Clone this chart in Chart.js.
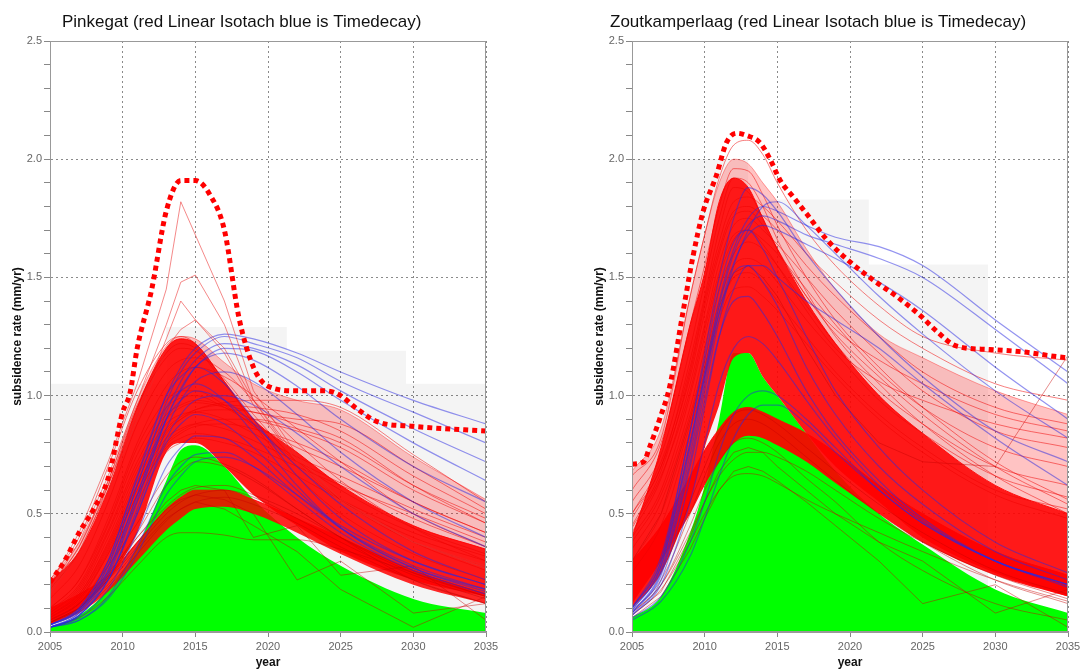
<!DOCTYPE html>
<html>
<head>
<meta charset="utf-8">
<script src="https://cdn.jsdelivr.net/npm/chart.js@4.4.0/dist/chart.umd.min.js"></script>
<style>
  html, body { margin: 0; padding: 0; background: #fff; }
  .panel { position: absolute; top: 0; width: 540px; height: 671px; }
</style>
</head>
<body>
<div class="panel" style="left:0"><canvas id="pinkegat" width="540" height="671"></canvas></div>
<div class="panel" style="left:540px"><canvas id="zoutkamperlaag" width="540" height="671"></canvas></div>
<script>
// ---- Pinkegat ----
const pinkYears      = [2005,2007,2009,2011,2013,2014,2015,2017,2019,2022,2025,2030,2035];
const pinkGreen      = [0.02,0.07,0.18,0.36,0.64,0.77,0.79,0.7,0.56,0.4,0.28,0.14,0.08];
const pinkHazeTop    = [0.22,0.38,0.64,0.98,1.21,1.25,1.24,1.14,1.05,0.98,0.94,0.74,0.56];
const pinkCoreTop    = [0.21,0.34,0.6,0.95,1.2,1.24,1.22,1.06,0.9,0.76,0.62,0.45,0.35];
const pinkCoreBottom = [0.03,0.1,0.22,0.42,0.76,0.8,0.8,0.7,0.58,0.45,0.34,0.22,0.15];
const pinkLowTop     = [0.1,0.16,0.24,0.38,0.52,0.57,0.6,0.6,0.56,0.48,0.4,0.26,0.16];
const pinkLowBottom  = [0.03,0.08,0.17,0.3,0.43,0.48,0.52,0.53,0.5,0.42,0.33,0.2,0.12];
const pinkRed = [
    [0.22,0.4,0.7,1.02,1.22,1.25,1.22,1.06,0.88,0.66,0.5,0.33,0.22],
    [0.18,0.34,0.62,0.95,1.16,1.2,1.19,1.07,0.92,0.72,0.56,0.38,0.26],
    [0.14,0.28,0.55,0.88,1.1,1.15,1.16,1.1,0.98,0.8,0.64,0.44,0.3],
    [0.1,0.22,0.48,0.8,1.04,1.1,1.12,1.08,1.0,0.86,0.72,0.5,0.36],
    [0.06,0.15,0.35,0.62,0.84,0.9,0.94,0.97,0.98,0.98,0.95,0.75,0.55],
    [0.07,0.16,0.38,0.66,0.86,0.91,0.94,0.96,0.95,0.92,0.85,0.66,0.5],
    [0.08,0.18,0.42,0.7,0.9,0.95,0.97,0.95,0.9,0.85,0.78,0.6,0.46],
    [0.09,0.2,0.45,0.75,0.95,0.99,1.0,0.95,0.88,0.78,0.7,0.55,0.42],
    [0.07,0.17,0.4,0.68,0.88,0.92,0.93,0.9,0.84,0.74,0.66,0.52,0.4],
    [0.06,0.15,0.36,0.62,0.82,0.86,0.88,0.86,0.81,0.72,0.63,0.48,0.36],
    [0.1,0.22,0.46,0.78,0.98,1.02,1.02,0.96,0.87,0.72,0.6,0.44,0.33],
    [0.05,0.13,0.33,0.58,0.78,0.82,0.84,0.82,0.78,0.7,0.62,0.5,0.38],
    [0.08,0.19,0.43,0.72,0.92,0.96,0.98,0.96,0.93,0.9,0.88,0.7,0.52],
    [0.06,0.14,0.34,0.6,0.8,0.85,0.88,0.9,0.9,0.86,0.8,0.62,0.48],
    [0.05,0.12,0.3,0.55,0.76,0.8,0.82,0.8,0.76,0.66,0.56,0.42,0.32],
    [0.2,0.36,0.64,0.96,1.18,1.22,1.2,1.05,0.9,0.7,0.56,0.4,0.3],
    [0.07,0.16,0.37,0.64,0.85,0.9,0.93,0.94,0.93,0.88,0.82,0.62,0.46],
    [0.06,0.14,0.33,0.58,0.79,0.84,0.87,0.88,0.86,0.8,0.72,0.55,0.42]
];
const pinkOlive = [
    [0.04,0.1,0.22,0.36,0.5,0.55,0.58,0.6,0.57,0.48,0.38,0.24,0.14],
    [0.05,0.12,0.25,0.4,0.53,0.58,0.61,0.62,0.58,0.5,0.4,0.26,0.16],
    [0.03,0.08,0.19,0.33,0.47,0.52,0.55,0.57,0.54,0.46,0.36,0.22,0.12],
    [0.02,0.06,0.15,0.28,0.4,0.42,0.42,0.41,0.39,0.39,0.35,0.25,0.15],
    [0.04,0.1,0.24,0.42,0.62,0.68,0.72,0.7,0.64,0.52,0.4,0.25,0.15],
    [0.05,0.12,0.28,0.46,0.66,0.72,0.74,0.71,0.65,0.52,0.4,0.22,0.12]
];
const pinkJagged = [
    [0.04,0.1,0.22,0.38,0.52,0.56,0.58,0.56,0.5,0.22,0.3,0.08,0.12],
    [0.03,0.09,0.2,0.35,0.48,0.52,0.55,0.52,0.45,0.34,0.18,0.02,0.15],
    [0.04,0.1,0.23,0.4,0.55,0.6,0.62,0.6,0.4,0.45,0.24,0.28,0.05]
];
const pinkSpike = [
    [0.2,0.42,0.72,1.05,1.45,1.82,1.68,1.4,1.02,0.75,0.56,0.38,0.28],
    [0.18,0.38,0.66,0.98,1.3,1.48,1.51,1.3,0.98,0.72,0.55,0.38,0.27],
    [0.17,0.36,0.62,0.93,1.24,1.4,1.32,1.18,0.96,0.72,0.55,0.38,0.27],
    [0.16,0.34,0.6,0.9,1.2,1.28,1.32,1.2,0.98,0.74,0.56,0.38,0.27]
];
const pinkBlue = [
    [0.03,0.1,0.3,0.65,1.0,1.12,1.2,1.26,1.24,1.18,1.1,0.98,0.88],
    [0.03,0.09,0.28,0.62,0.97,1.1,1.18,1.25,1.22,1.16,1.06,0.93,0.8],
    [0.02,0.08,0.26,0.58,0.93,1.06,1.15,1.22,1.2,1.13,1.02,0.86,0.72],
    [0.02,0.08,0.25,0.56,0.9,1.03,1.12,1.2,1.19,1.1,0.98,0.8,0.64],
    [0.02,0.07,0.24,0.55,0.9,1.02,1.12,1.18,1.15,1.04,0.9,0.7,0.55],
    [0.02,0.07,0.22,0.52,0.86,0.98,1.06,1.1,1.06,0.92,0.76,0.55,0.4],
    [0.03,0.1,0.3,0.66,1.0,1.08,1.12,1.05,0.9,0.66,0.48,0.3,0.2],
    [0.03,0.09,0.28,0.62,0.95,1.02,1.05,0.98,0.84,0.62,0.44,0.27,0.18],
    [0.02,0.07,0.22,0.5,0.8,0.88,0.92,0.88,0.78,0.6,0.44,0.27,0.17],
    [0.02,0.06,0.18,0.42,0.7,0.78,0.83,0.82,0.74,0.58,0.44,0.28,0.18],
    [0.02,0.05,0.15,0.36,0.62,0.7,0.75,0.76,0.7,0.56,0.42,0.26,0.16],
    [0.02,0.05,0.14,0.33,0.58,0.66,0.72,0.74,0.7,0.58,0.45,0.3,0.2],
    [0.02,0.07,0.22,0.5,0.82,0.92,0.98,1.0,0.96,0.84,0.7,0.5,0.36],
    [0.03,0.09,0.26,0.58,0.9,0.98,1.02,0.98,0.88,0.7,0.54,0.34,0.22]
];
const pinkEnvYears = [2005,2006,2007,2008,2009,2010,2010.5,2011,2012,2013,2014,2015,2016,2017,2018,2019,2020,2022,2024,2025,2026,2027.5,2030,2035];
const pinkEnv      = [0.21,0.3,0.42,0.52,0.65,0.93,1.01,1.2,1.45,1.78,1.91,1.91,1.85,1.7,1.33,1.12,1.04,1.02,1.02,1.0,0.95,0.89,0.87,0.85];
const pinkShadeYears = [2005,2013,2021.3,2029.5,2035];
const pinkShade      = [1.05,1.29,1.19,1.05,1.05];

// ---- Zoutkamperlaag ----
const zoutYears      = [2005,2007,2009,2010,2011,2012,2013,2014,2015,2017,2019,2022,2025,2030,2035];
const zoutGreen      = [0.06,0.15,0.42,0.62,0.9,1.18,1.18,1.08,1.0,0.84,0.68,0.5,0.37,0.18,0.08];
const zoutHazeTop    = [0.68,0.86,1.42,1.68,1.9,2.0,1.98,1.9,1.82,1.62,1.45,1.26,1.16,1.02,0.92];
const zoutCoreTop    = [0.4,0.78,1.3,1.52,1.82,1.92,1.88,1.75,1.62,1.4,1.22,1.0,0.84,0.62,0.5];
const zoutCoreBottom = [0.1,0.25,0.55,0.78,0.96,1.16,1.18,1.08,1.0,0.84,0.7,0.55,0.4,0.25,0.15];
const zoutLowTop     = [0.3,0.45,0.66,0.77,0.86,0.93,0.95,0.93,0.9,0.84,0.76,0.62,0.5,0.34,0.24];
const zoutLowBottom  = [0.12,0.3,0.5,0.62,0.72,0.8,0.83,0.82,0.79,0.72,0.63,0.5,0.38,0.24,0.15];
const zoutRed = [
    [0.66,0.82,1.42,1.68,1.92,2.06,2.08,2.02,1.9,1.7,1.55,1.38,1.25,1.18,1.15],
    [0.6,0.8,1.3,1.55,1.8,1.96,1.95,1.85,1.72,1.5,1.32,1.12,0.95,0.72,0.56],
    [0.55,0.75,1.2,1.48,1.75,1.92,1.9,1.8,1.66,1.44,1.25,1.05,0.88,0.66,0.5],
    [0.5,0.7,1.15,1.42,1.7,1.88,1.86,1.75,1.62,1.42,1.26,1.08,0.92,0.7,0.54],
    [0.45,0.68,1.1,1.38,1.62,1.78,1.8,1.76,1.7,1.55,1.42,1.25,1.1,0.95,0.88],
    [0.42,0.65,1.05,1.3,1.56,1.72,1.75,1.7,1.64,1.5,1.36,1.18,1.02,0.85,0.78],
    [0.4,0.6,1.0,1.25,1.5,1.66,1.7,1.66,1.6,1.45,1.3,1.1,0.95,0.78,0.7],
    [0.38,0.58,0.95,1.2,1.45,1.6,1.65,1.62,1.55,1.38,1.22,1.02,0.88,0.7,0.62],
    [0.35,0.55,0.92,1.15,1.4,1.55,1.58,1.55,1.48,1.32,1.18,0.98,0.84,0.66,0.57],
    [0.3,0.5,0.88,1.1,1.35,1.5,1.52,1.48,1.4,1.25,1.1,0.92,0.78,0.6,0.52],
    [0.25,0.45,0.85,1.08,1.32,1.45,1.46,1.42,1.36,1.22,1.08,0.9,0.76,0.58,0.48],
    [0.5,0.72,1.12,1.4,1.65,1.82,1.84,1.8,1.74,1.6,1.48,1.32,1.2,1.05,0.98],
    [0.48,0.7,1.08,1.35,1.6,1.76,1.78,1.72,1.62,1.42,1.28,1.15,1.05,0.92,0.85],
    [0.44,0.66,1.02,1.28,1.52,1.68,1.7,1.64,1.55,1.36,1.2,1.06,0.98,0.88,0.82]
];
const zoutOlive = [
    [0.08,0.2,0.42,0.55,0.66,0.73,0.76,0.76,0.74,0.68,0.6,0.48,0.38,0.24,0.14],
    [0.07,0.18,0.38,0.5,0.6,0.66,0.67,0.66,0.63,0.56,0.5,0.42,0.34,0.22,0.13],
    [0.08,0.2,0.45,0.6,0.72,0.8,0.82,0.8,0.76,0.65,0.55,0.38,0.26,0.12,0.05],
    [0.09,0.22,0.5,0.66,0.8,0.88,0.9,0.88,0.84,0.74,0.64,0.5,0.38,0.22,0.12],
    [0.1,0.25,0.55,0.7,0.84,0.92,0.94,0.92,0.88,0.78,0.68,0.54,0.42,0.26,0.16]
];
const zoutJagged = [
    [0.06,0.15,0.35,0.48,0.6,0.68,0.7,0.68,0.64,0.55,0.45,0.3,0.12,0.2,0.02],
    [0.07,0.17,0.4,0.55,0.68,0.76,0.78,0.76,0.7,0.6,0.5,0.38,0.3,0.08,0.18],
    [0.3,0.5,0.9,1.12,1.38,1.52,1.55,1.5,1.42,1.2,1.0,0.8,0.72,0.7,1.17]
];
const zoutBlue = [
    [0.1,0.3,0.8,1.1,1.4,1.62,1.75,1.8,1.78,1.72,1.67,1.63,1.55,1.32,1.1],
    [0.09,0.28,0.78,1.08,1.38,1.6,1.72,1.76,1.74,1.68,1.64,1.58,1.5,1.28,1.05],
    [0.08,0.26,0.75,1.05,1.35,1.56,1.68,1.72,1.7,1.64,1.58,1.48,1.36,1.12,0.9],
    [0.08,0.25,0.72,1.02,1.32,1.55,1.7,1.8,1.82,1.72,1.6,1.42,1.26,1.02,0.82],
    [0.1,0.32,0.85,1.18,1.5,1.75,1.88,1.85,1.78,1.6,1.45,1.25,1.08,0.85,0.72],
    [0.07,0.22,0.65,0.95,1.25,1.45,1.55,1.55,1.5,1.4,1.32,1.2,1.05,0.82,0.62],
    [0.1,0.3,0.85,1.15,1.45,1.65,1.7,1.62,1.5,1.25,1.02,0.78,0.6,0.38,0.25],
    [0.09,0.28,0.8,1.08,1.35,1.52,1.55,1.48,1.38,1.12,0.92,0.7,0.54,0.34,0.22],
    [0.08,0.24,0.7,0.98,1.25,1.4,1.42,1.35,1.25,1.02,0.84,0.64,0.48,0.3,0.2],
    [0.07,0.2,0.55,0.8,1.05,1.2,1.25,1.22,1.15,0.98,0.82,0.62,0.47,0.3,0.2],
    [0.06,0.15,0.38,0.55,0.76,0.92,1.0,1.02,1.0,0.9,0.78,0.6,0.46,0.3,0.2],
    [0.05,0.13,0.32,0.48,0.66,0.82,0.92,0.96,0.96,0.88,0.76,0.6,0.46,0.3,0.19]
];
const zoutEnvYears = [2005,2005.8,2006.2,2006.9,2007.6,2008.5,2009.2,2009.9,2010.8,2011.5,2012.2,2012.9,2013.8,2014.5,2015.2,2016.1,2017,2018.4,2020.1,2021.8,2023.2,2024.9,2026,2027.3,2029.6,2031.9,2034.2,2035];
const zoutEnv      = [0.71,0.72,0.78,0.9,1.04,1.35,1.59,1.78,1.93,2.07,2.11,2.1,2.07,2.0,1.91,1.84,1.77,1.66,1.56,1.48,1.42,1.335,1.27,1.21,1.195,1.185,1.165,1.16];
const zoutShadeYears = [2005,2013,2021.3,2029.5];
const zoutShade      = [2.0,1.83,1.555,0];

const yTicks = [0, 0.5, 1.0, 1.5, 2.0, 2.5];
const xTicks = [2005, 2010, 2015, 2020, 2025, 2030, 2035];

Chart.defaults.font.family = '"Liberation Sans", Arial, sans-serif';

function pts(xs, ys){
    return xs.map((x, i) => ({ x: x, y: ys[i] }));
}

function line(xs, ys, color, width, order, extra){
    return Object.assign({
        data: pts(xs, ys),
        borderColor: color,
        borderWidth: width,
        pointRadius: 0,
        fill: false,
        cubicInterpolationMode: 'monotone',
        order: order
    }, extra || {});
}

function buildSets(p){
    const sets = [];
    sets.push(line(p.envYears, p.env, '#ff0000', 5, 0, { borderDash: [5, 4] }));
    for (const s of p.spike)  sets.push(line(p.years, s, 'rgba(235,40,40,0.55)', 1, 3, { cubicInterpolationMode: 'default', tension: 0 }));
    for (const s of p.blue)   sets.push(line(p.years, s, 'rgba(40,40,225,0.5)', 1.2, 4));
    for (const s of p.red)    sets.push(line(p.years, s, 'rgba(240,0,0,0.5)', 1, 5));
    for (const s of p.olive)  sets.push(line(p.years, s, 'rgba(200,0,0,0.45)', 1, 5));
    for (const s of p.jagged) sets.push(line(p.years, s, 'rgba(200,0,0,0.45)', 1, 5, { cubicInterpolationMode: 'default', tension: 0 }));
    // lighter spread of lines above the dense bundle
    sets.push(line(p.years, p.hazeTop, 'rgba(255,0,0,0.35)', 1, 7, { fill: '+1', backgroundColor: 'rgba(255,40,40,0.28)' }));
    // dense red bundles, filled between top and bottom curves
    sets.push(line(p.years, p.coreTop, 'rgba(255,0,0,0.9)', 1, 6, { fill: '+1', backgroundColor: 'rgba(255,0,0,0.9)' }));
    sets.push(line(p.years, p.coreBottom, 'rgba(255,0,0,0)', 0, 6));
    sets.push(line(p.years, p.lowTop, 'rgba(255,0,0,0.85)', 1, 6, { fill: '+1', backgroundColor: p.lowColor }));
    sets.push(line(p.years, p.lowBottom, 'rgba(255,0,0,0)', 0, 6));
    sets.push(line(p.years, p.green, '#00ff00', 0, 8, { fill: 'origin', backgroundColor: '#00ff00' }));
    sets.push(line(p.shadeYears, p.shade, 'rgba(0,0,0,0)', 0, 9, { fill: 'origin', stepped: true, backgroundColor: 'rgba(0,0,0,0.045)' }));
    return sets;
}

const framePlugin = {
    id: 'frame',
    afterDatasetsDraw(chart){
        const a = chart.chartArea, ctx = chart.ctx;
        ctx.save();
        ctx.strokeStyle = '#999';
        ctx.lineWidth = 1;
        ctx.strokeRect(Math.round(a.left) + 0.5, Math.round(a.top) + 0.5, Math.round(a.right - a.left) - 1, Math.round(a.bottom - a.top) - 1);
        ctx.restore();
    }
};

// title text, x is relative to the panel canvas
const titlePlugin = {
    id: 'panelTitle',
    afterDraw(chart, args, opts){
        const ctx = chart.ctx;
        ctx.save();
        ctx.font = '17px "Liberation Sans", Arial, sans-serif';
        ctx.fillStyle = '#111';
        ctx.textBaseline = 'alphabetic';
        ctx.textAlign = 'left';
        ctx.fillText(opts.text, opts.x, 27);
        ctx.restore();
    }
};

function isMajor(v){
    return Math.abs(v * 2 - Math.round(v * 2)) < 1e-6;
}

function makeChart(id, p, title, titleX, padLeft, padRight){
    const ctx = document.getElementById(id).getContext('2d');
    return new Chart(ctx, {
        type: 'line',
        data: { datasets: buildSets(p) },
        plugins: [framePlugin, titlePlugin],
        options: {
            responsive: false,
            animation: false,
            events: [],
            layout: { padding: { left: padLeft, right: padRight, top: 41, bottom: 0 } },
            plugins: {
                legend: { display: false },
                tooltip: { enabled: false },
                panelTitle: { text: title, x: titleX }
            },
            scales: {
                x: {
                    type: 'linear',
                    min: xTicks[0],
                    max: xTicks[xTicks.length - 1],
                    afterBuildTicks: (s) => { s.ticks = xTicks.map(v => ({ value: v })); },
                    afterFit: (s) => { s.height = 39; s.paddingLeft = 0; s.paddingRight = 0; },
                    ticks: { color: '#666', font: { size: 11 }, padding: 3, maxRotation: 0, callback: (v) => String(v) },
                    grid: { color: '#8a8a8a', tickColor: '#888', tickLength: 5, lineWidth: 1 },
                    border: { color: '#999', dash: [2, 3] },
                    title: { display: true, text: 'year', color: '#111', font: { size: 12, weight: 'bold' }, padding: { top: 0, bottom: 1 } }
                },
                y: {
                    type: 'linear',
                    min: 0,
                    max: 2.5,
                    ticks: {
                        stepSize: 0.1,
                        autoSkip: false,
                        color: '#666',
                        font: { size: 11 },
                        padding: 2,
                        callback: (v) => isMajor(v) && yTicks.some(t => Math.abs(t - v) < 1e-6) ? v.toFixed(1) : ''
                    },
                    afterFit: (s) => { s.width = 50; },
                    grid: {
                        color: (c) => c.tick && isMajor(c.tick.value) ? '#8a8a8a' : 'rgba(0,0,0,0)',
                        tickColor: '#888',
                        tickLength: 6,
                        lineWidth: 1
                    },
                    border: { color: '#999', dash: [2, 3] },
                    title: { display: true, text: 'subsidence rate (mm/yr)', color: '#111', font: { size: 12, weight: 'bold' }, padding: { top: 10, bottom: 0 } }
                }
            }
        }
    });
}

makeChart('pinkegat', {
    years: pinkYears, green: pinkGreen, hazeTop: pinkHazeTop, coreTop: pinkCoreTop, coreBottom: pinkCoreBottom,
    lowTop: pinkLowTop, lowBottom: pinkLowBottom, lowColor: 'rgba(255,0,0,0.85)', red: pinkRed, olive: pinkOlive,
    jagged: pinkJagged, spike: pinkSpike, blue: pinkBlue,
    envYears: pinkEnvYears, env: pinkEnv, shadeYears: pinkShadeYears, shade: pinkShade
}, 'Pinkegat (red Linear Isotach blue is Timedecay)', 62, 0, 54);

makeChart('zoutkamperlaag', {
    years: zoutYears, green: zoutGreen, hazeTop: zoutHazeTop, coreTop: zoutCoreTop, coreBottom: zoutCoreBottom,
    lowTop: zoutLowTop, lowBottom: zoutLowBottom, lowColor: 'rgba(255,0,0,0.92)', red: zoutRed, olive: zoutOlive,
    jagged: zoutJagged, spike: [], blue: zoutBlue,
    envYears: zoutEnvYears, env: zoutEnv, shadeYears: zoutShadeYears, shade: zoutShade
}, 'Zoutkamperlaag (red Linear Isotach blue is Timedecay)', 70, 42, 12);
</script>
</body>
</html>
